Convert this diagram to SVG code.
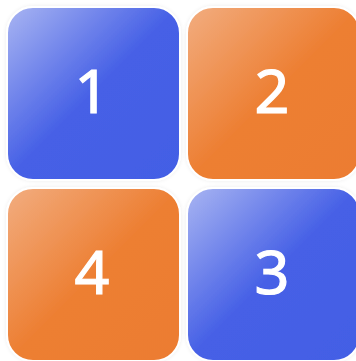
<svg xmlns="http://www.w3.org/2000/svg" width="356" height="361" viewBox="0 0 356 361">
<defs>
<linearGradient id="gb" x1="0" y1="0" x2="1" y2="1">
<stop offset="0" stop-color="#A9B5F2"/>
<stop offset="0.5" stop-color="#4660E6"/>
<stop offset="1" stop-color="#435EE5"/>
</linearGradient>
<linearGradient id="go" x1="0" y1="0" x2="1" y2="1">
<stop offset="0" stop-color="#F2AD80"/>
<stop offset="0.5" stop-color="#ED7F33"/>
<stop offset="1" stop-color="#EC7C30"/>
</linearGradient>
<filter id="sh" x="-10%" y="-10%" width="120%" height="120%">
<feGaussianBlur in="SourceAlpha" stdDeviation="2"/>
<feComponentTransfer><feFuncA type="linear" slope="0.08"/></feComponentTransfer>
<feMerge><feMergeNode/><feMergeNode in="SourceGraphic"/></feMerge>
</filter>
</defs>
<style>
.box{filter:url(#sh);stroke:#fff;stroke-width:2}
.lbl{font-family:"Noto Sans","DejaVu Sans",sans-serif;font-size:61px;font-weight:400;fill:#fff;stroke:#fff;stroke-width:1.2;text-anchor:middle}
</style>
<rect width="356" height="361" fill="#fff"/>
<g id="node1"><rect class="box" x="7" y="7" width="173" height="173" rx="26" fill="url(#gb)"/><text class="lbl" x="92" y="113">1</text></g>
<g id="node2"><rect class="box" x="187" y="7" width="173" height="173" rx="26" fill="url(#go)"/><text class="lbl" x="272" y="113">2</text></g>
<g id="node4"><rect class="box" x="7" y="188" width="173" height="173" rx="26" fill="url(#go)"/><text class="lbl" x="92" y="294">4</text></g>
<g id="node3"><rect class="box" x="187" y="188" width="173" height="173" rx="26" fill="url(#gb)"/><text class="lbl" x="272" y="294">3</text></g>
<g id="connectors"/>
</svg>
